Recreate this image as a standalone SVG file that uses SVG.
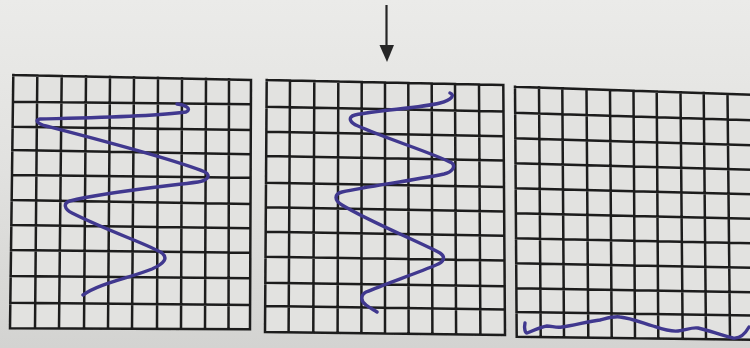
<svg xmlns="http://www.w3.org/2000/svg" width="750" height="348" viewBox="0 0 750 348">
<defs>
<linearGradient id="paper" x1="0" y1="0" x2="0" y2="1">
<stop offset="0" stop-color="#ebebe9"/>
<stop offset="0.5" stop-color="#e1e1df"/>
<stop offset="1" stop-color="#d3d3d1"/>
</linearGradient>
<filter id="soft" x="-5%" y="-5%" width="110%" height="110%"><feGaussianBlur stdDeviation="0.6"/></filter>
</defs>
<style>
.grid{fill:none;stroke:#1c1c1c;stroke-width:2.5;stroke-linecap:square}
.cell{fill:#e2e2e0;stroke:none}
.wave{fill:none;stroke:#41388f;stroke-width:3.4;stroke-linecap:round;stroke-linejoin:round}
.arrow{stroke:#262626;stroke-width:2.2;fill:none}
</style>
<rect width="750" height="348" fill="url(#paper)"/>
<g filter="url(#soft)">
<g id="grid1">
<polygon class="cell" points="13.3,75 251,80 250,329.3 10,328.3"/>
<path class="grid" d="M13.3 75 L251 80 M13 101.7 L250.9 104.3 M12.6 126.7 L250.8 130 M12.3 150 L250.7 154.3 M12 175 L250.6 177.7 M11.6 200 L250.5 204 M11.3 225 L250.4 228.3 M11 250 L250.3 252.7 M10.6 276 L250.2 278.3 M10.3 302.7 L250.1 305 M10 328.3 L250 329.3 M13.3 75 L10 328.3 M37.3 75.5 L35 328.4 M61.7 76 L59 328.5 M86 76.5 L84 328.6 M110 77 L108 328.7 M134 77.5 L132 328.8 M158 78 L157 328.9 M182 78.5 L181 329 M206 79 L205 329.1 M229 79.5 L228.5 329.2 M251 80 L250 329.3"/>
<path class="wave" d="M177 104 C186 105,192 109,186 112 C150 117,80 118,40 119 C34 120,38 124,46 126 C100 140,170 158,205 172 C212 176,206 181,198 182 C150 188,100 193,70 201 C63 203,64 209,72 213 C110 232,150 245,162 253 C168 258,165 263,152 269 C130 278,100 283,83 295"/>
</g>
<g id="grid2">
<polygon class="cell" points="266.7,80 503.3,85 505,335 265,332"/>
<path class="grid" d="M266.7 80 L503.3 85 M266.5 106.7 L503.5 111.5 M266.4 131.7 L503.6 136.3 M266.2 156 L503.8 160.5 M266 182.7 L504 187 M265.9 207.3 L504.2 211.5 M265.7 231.7 L504.3 235.7 M265.5 256.7 L504.5 260.5 M265.3 282.7 L504.7 286.3 M265.2 306 L504.8 309.4 M265 332 L505 335 M266.7 80 L265 332 M290 80.5 L288.6 332.3 M314.3 81 L313.3 332.6 M338.3 81.5 L337.6 332.9 M361.7 82 L361.4 333.2 M385 82.5 L385 333.5 M408.3 83 L408.6 333.8 M431.7 83.5 L432.4 334.1 M455 84 L456.1 334.4 M479 84.5 L480.4 334.7 M503.3 85 L505 335"/>
<path class="wave" d="M450 93 C455 95,452 100,440 103 C420 108,380 110,355 115 C347 117,350 123,358 126 C390 140,430 152,452 163 C456 167,452 172,444 174 C410 181,370 186,342 192 C334 194,334 200,342 205 C370 222,420 242,440 253 C446 257,444 262,436 265 C420 272,385 284,366 292 C360 295,361 302,366 305 C370 308,374 310,377 312"/>
</g>
<g id="grid3">
<polygon class="cell" points="515,86.7 752,94.7 752,339.7 516.7,336.7"/>
<path class="grid" d="M515 86.7 L752 94.7 M515.2 112.7 L752 120.2 M515.3 138.3 L752 145.3 M515.5 163.3 L752 169.8 M515.7 188.3 L752 194.3 M515.9 213.3 L752 218.8 M516 238.3 L752 243.3 M516.2 263.3 L752 267.8 M516.4 288.3 L752 292.3 M516.5 312 L752 315.5 M516.7 336.7 L752 339.7 M515 86.7 L516.7 336.7 M539 87.5 L540.7 337 M562.3 88.3 L564 337.3 M586.5 89.2 L588.3 337.6 M610 90 L611.7 337.9 M633.5 90.8 L635 338.2 M656.7 91.5 L658.3 338.5 M680.5 92.3 L682.7 338.8 M703.7 93.1 L706 339.1 M727.5 93.9 L730 339.4"/>
<path class="wave" d="M525 323 C524 328,525 333,527 333 C530 332,540 327,547 326 C552 326,556 328,562 327 C575 325,590 321,600 320 C608 318,614 316,620 317 C630 318,640 322,653 326 C662 329,670 332,678 331 C686 330,692 327,698 328 C708 330,720 335,733 338 C740 339,745 334,749 327"/>
</g>
<g id="arrow">
<line class="arrow" x1="386.5" y1="5" x2="386.5" y2="48"/>
<polygon points="379.5,45 394,45 387,62" fill="#262626"/>
</g>
</g>
</svg>
